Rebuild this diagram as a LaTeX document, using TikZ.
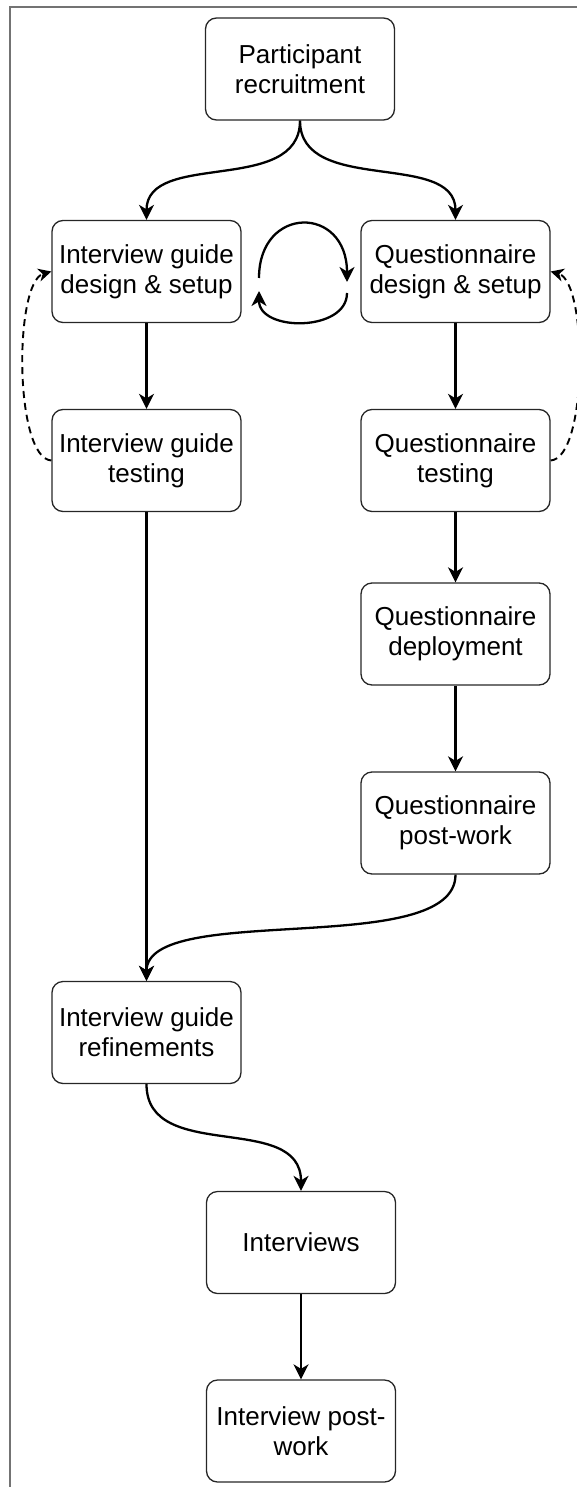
\documentclass[tikz,border=0pt]{standalone}
\usepackage{fontspec}
\setmainfont{Liberation Sans}
\usetikzlibrary{arrows.meta}
\begin{document}
\begin{tikzpicture}[x=1pt,y=-1pt,
  box/.style={draw=black!85, line width=1.3pt, rounded corners=11pt, minimum width=189pt, minimum height=102pt, inner sep=0pt, align=center, font=\fontsize{26}{30}\selectfont},
  conn/.style={line width=2.3pt, -{Stealth[length=15pt,width=15pt,inset=4.5pt]}},
  dconn/.style={line width=1.9pt, dash pattern=on 7pt off 5pt, -{Stealth[length=13pt,width=13pt,inset=4pt]}}]
\useasboundingbox (0,0) rectangle (577,1487);
\draw[black!55, line width=2pt] (10,1487) -- (10,7) -- (577,7);

\node[box] (pr) at (300,69) {Participant\\recruitment};
\node[box] (igd) at (146.5,271.5) {Interview guide\\design \& setup};
\node[box] (qd) at (455.5,271.5) {Questionnaire\\design \& setup};
\node[box] (igt) at (146.5,460.5) {Interview guide\\testing};
\node[box] (qt) at (455.5,460.5) {Questionnaire\\testing};
\node[box] (qdep) at (455.5,634) {Questionnaire\\deployment};
\node[box] (qpw) at (455.5,823) {Questionnaire\\post-work};
\node[box] (igr) at (146.5,1032.5) {Interview guide\\refinements};
\node[box] (iv) at (301,1242.5) {Interviews};
\node[box] (ipw) at (301,1431) {Interview post-\\work};

\draw[conn] (pr.south) .. controls +(0,75) and +(0,-70) .. (igd.north);
\draw[conn] (pr.south) .. controls +(0,75) and +(0,-70) .. (qd.north);

\coordinate (c1) at (259,278);
\coordinate (c2) at (347,282);
\coordinate (c3) at (347,293);
\coordinate (c4) at (259,291);
\draw[conn] (c1) .. controls (259,205) and (347,205) .. (c2);
\draw[conn] (c3) .. controls (347,332) and (259,332) .. (c4);

\draw[dconn] (igt.west) .. controls (14,458) and (14,282) .. (igd.west);
\draw[dconn] (qt.east) .. controls (588,458) and (588,282) .. (qd.east);

\draw[conn] (igd) -- (igt);
\draw[conn] (qd) -- (qt);
\draw[conn] (qt) -- (qdep);
\draw[conn] (qdep) -- (qpw);
\draw[conn] (igt) -- (igr);
\draw[conn] (qpw.south) .. controls +(0,85) and +(0,-80) .. (igr.north);
\draw[conn] (igr.south) .. controls +(0,80) and +(0,-80) .. (iv.north);
\draw[conn] (iv) -- (ipw);
\end{tikzpicture}
\end{document}
